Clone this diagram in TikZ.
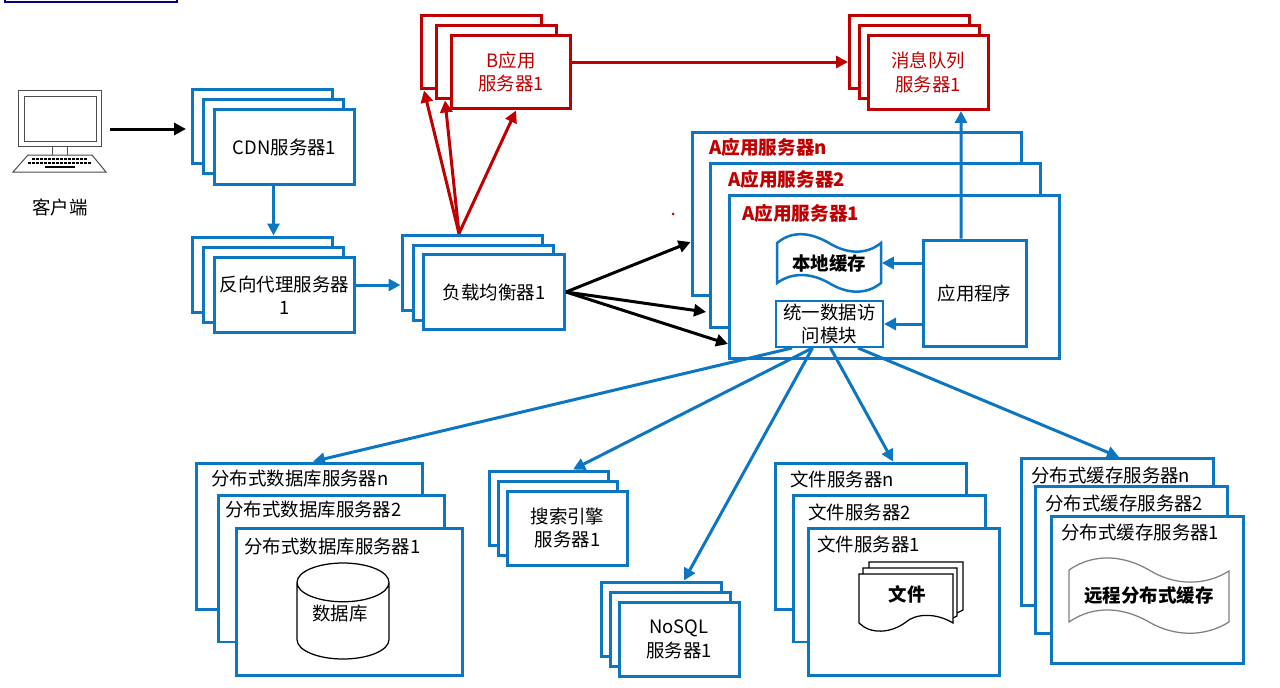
\documentclass[tikz,border=0pt]{standalone}
\usepackage{fontspec}
\setmainfont{Noto Sans CJK SC}
\usepackage{tikz}
\usetikzlibrary{shapes.geometric, arrows.meta}
\definecolor{lineblue}{HTML}{0C76C2}
\definecolor{linered}{HTML}{C00000}
\tikzstyle{smallbox} = [rectangle, minimum width=2.82cm, minimum height=1.5cm, inner sep=0pt, text centered, align=center, draw=lineblue, line width=0.06cm, fill=white, font=\fontsize{10.5}{13.4}\selectfont]
\tikzstyle{querybox} = [smallbox, minimum width=2.4cm, minimum height=1.48cm]
\tikzstyle{redbox} = [querybox, draw=linered, text=linered]
\tikzstyle{appbox} = [smallbox, minimum width=6.6cm, minimum height=3.28cm]
\tikzstyle{dbbox} = [smallbox, minimum width=4.54cm, minimum height=2.94cm]
\tikzstyle{filebox} = [smallbox, minimum width=3.84cm, minimum height=2.94cm]
\tikzstyle{title} = [anchor=west, inner sep=0pt, font=\fontsize{10.5}{13.4}\selectfont]
\tikzstyle{apptitle} = [anchor=west, inner sep=0pt, text=linered, font=\fontsize{10.6}{13}\selectfont\bfseries]
\tikzstyle{blackline} = [black, line width=0.025cm]
\tikzstyle{arrow} = [line width=0.06cm,-{Triangle[length=0.24cm,width=0.24cm]}]
\tikzstyle{bluearrow} = [arrow, draw=lineblue]
\tikzstyle{redarrow} = [arrow, draw=linered]
\tikzstyle{blackarrow} = [arrow, draw=black]
\begin{document}
\begin{tikzpicture}[x=0.02cm,y=-0.02cm]
	\useasboundingbox (0,0) rectangle (1280,687);
	\node (topbox) [draw=blue!50!black, line width=0.04cm, minimum width=3.44cm, minimum height=0.44cm] at (91,-9) {};

	% client
	\node (screen) [draw=black!70, line width=0.02cm, minimum width=1.68cm, minimum height=1.12cm] at (60,118) {};
	\node (panel) [draw=black!70, line width=0.02cm, minimum width=1.46cm, minimum height=0.9cm] at (60.5,118.5) {};
	\draw [black!70, line width=0.02cm] (52,146) -- (52,155) (67,146) -- (67,155);
	\draw [black!70, line width=0.02cm] (28,155) -- (92,155) -- (106,172) -- (13,172) -- cycle;
	\draw [black, line width=0.05cm, dash pattern=on 0.06cm off 0.02cm] (32,159) -- (87,159);
	\draw [black, line width=0.05cm, dash pattern=on 0.06cm off 0.02cm] (28,163) -- (91,163);
	\draw [black, line width=0.05cm] (45,167) -- (75,167);
	\node (client) [font=\fontsize{10.5}{13.4}\selectfont] at (60,207) {客户端};
	\coordinate (clientout) at (110,129);
	\coordinate (cdnin) at (186,129);

	% front servers
	\node (cdnn) [smallbox] at (262.5,126.5) {};
	\node (cdn2) [smallbox] at (273.5,136.5) {};
	\node (cdn1) [smallbox] at (284.5,147) {CDN服务器1};
	\node (revn) [smallbox] at (262.5,274.5) {};
	\node (rev2) [smallbox] at (273.5,285) {};
	\node (rev1) [smallbox] at (284.5,295) {反向代理服务器\\1};
	\node (lbn) [smallbox] at (472.5,272.5) {};
	\node (lb2) [smallbox] at (483.5,282.5) {};
	\node (lb1) [smallbox] at (494,292) {负载均衡器1};

	% red servers
	\node (bn) [redbox] at (481.5,52) {};
	\node (b2) [redbox] at (496.5,62) {};
	\node (b1) [redbox] at (511,72) {B应用\\服务器1};
	\node (mqn) [redbox] at (909.5,52) {};
	\node (mq2) [redbox] at (919,62) {};
	\node (mq1) [redbox] at (928,72.5) {消息队列\\服务器1};

	% A servers
	\node (an) [appbox] at (857,214) {};
	\node (atitlen) [apptitle] at (709,147) {A应用服务器n};
	\node (a2) [appbox] at (875.5,245.5) {};
	\node (atitle2) [apptitle] at (728,179) {A应用服务器2};
	\node (a1) [appbox] at (894.5,277) {};
	\node (atitle1) [apptitle] at (742,213) {A应用服务器1};
	\draw [draw=lineblue, line width=0.05cm, fill=white] (777,243) .. controls (795,228) and (815,235) .. (829,243) .. controls (845,253) and (865,256) .. (881,243) -- (881,283) .. controls (865,296) and (845,293) .. (829,283) .. controls (815,275) and (795,270) .. (777,283) -- cycle;
	\node (lcache) [minimum width=2.1cm, inner sep=0pt, font=\fontsize{10.5}{13.4}\selectfont\bfseries] at (829,263) {本地缓存};
	\node (app) [smallbox, minimum width=2.06cm, minimum height=2.14cm] at (974.5,293.5) {应用程序};
	\node (uni) [smallbox, line width=0.04cm, minimum width=2.14cm, minimum height=0.92cm] at (829.5,324) {统一数据访\\问模块};

	% database
	\node (dbn) [dbbox] at (309.5,536.5) {};
	\node (dbtitlen) [title] at (211,479) {分布式数据库服务器n};
	\node (db2) [dbbox] at (331.5,568.5) {};
	\node (dbtitle2) [title] at (225,510) {分布式数据库服务器2};
	\node (db1) [dbbox] at (349.5,601.5) {};
	\node (dbtitle1) [title] at (244,547) {分布式数据库服务器1};
	\node (cyl) [cylinder, shape border rotate=90, aspect=0.7, draw=black, line width=0.025cm, minimum width=1.84cm, minimum height=1.92cm, inner sep=0pt, font=\fontsize{10.5}{13.4}\selectfont] at (343,621) {\phantom{数据库}};
	\node (cyllabel) [font=\fontsize{10.5}{13.4}\selectfont] at (340,614) {数据库};

	% search, nosql
	\node (searchn) [querybox] at (549,508) {};
	\node (search2) [querybox] at (558,518) {};
	\node (search1) [querybox] at (567.5,528) {搜索引擎\\服务器1};
	\node (nosqln) [querybox] at (661,619) {};
	\node (nosql2) [querybox] at (670,629) {};
	\node (nosql1) [querybox] at (679,639.5) {NoSQL\\服务器1};

	% file
	\node (filen) [filebox] at (871,536.5) {};
	\node (filetitlen) [title] at (790,479) {文件服务器n};
	\node (file2) [filebox] at (889.5,568.5) {};
	\node (filetitle2) [title] at (808,512) {文件服务器2};
	\node (file1) [filebox] at (904,601.5) {};
	\node (filetitle1) [title] at (817,544) {文件服务器1};
	\draw [blackline] (869,568) -- (869,562) -- (963,562) -- (963,610) -- (957,613);
	\draw [blackline] (863,574) -- (863,568) -- (957,568) -- (957,616) -- (953,618);
	\draw [blackline] (859,574) -- (953,574) -- (953,623) .. controls (935,612) and (915,614) .. (906,622) .. controls (890,634) and (870,634) .. (859,623) -- cycle;
	\node (doc) [font=\fontsize{10.5}{13.4}\selectfont\bfseries] at (907,594) {文件};

	% cache
	\node (cachen) [filebox] at (1117.5,532) {};
	\node (cachetitlen) [title] at (1031,475) {分布式缓存服务器n};
	\node (cache2) [filebox] at (1131.5,560) {};
	\node (cachetitle2) [title] at (1045,503) {分布式缓存服务器2};
	\node (cache1) [filebox] at (1147.5,589.5) {};
	\node (cachetitle1) [title] at (1061,532) {分布式缓存服务器1};
	\draw [black!50, line width=0.025cm] (1069,570) .. controls (1095,552) and (1125,556) .. (1149,570) .. controls (1175,586) and (1205,586) .. (1229,571) -- (1229,622) .. controls (1205,637) and (1175,637) .. (1149,622) .. controls (1125,608) and (1095,604) .. (1069,622) -- cycle;
	\node (rcache) [font=\fontsize{10.5}{13.4}\selectfont\bfseries] at (1149,595) {远程分布式缓存};

	\fill [linered] (673,214) circle (0.03cm);

	\draw [blackarrow] (clientout) -- (cdnin);
	\draw [bluearrow] (cdn2.south |- cdn1.south) -- (rev2.north |- revn.north);
	\draw [bluearrow] (rev1.east |- rev2.east) -- (lbn.west |- rev2.east);
	\draw [redarrow] ([xshift=-0.27cm]lbn.north) -- ([xshift=-1.15cm]bn.south);
	\draw [redarrow] ([xshift=-0.27cm]lbn.north) -- ([xshift=-1.03cm]b2.south);
	\draw [redarrow] ([xshift=-0.27cm]lbn.north) -- ([xshift=0.1cm]b1.south);
	\draw [redarrow] (b1.east |- mq2.west) -- (mqn.west |- mq2.west);
	\draw [blackarrow] (lb1.east) -- ([yshift=-0.56cm]an.west);
	\draw [blackarrow] (lb1.east) -- ([xshift=-0.06cm,yshift=-1.33cm]a2.west);
	\draw [blackarrow] (lb1.east) -- ([yshift=-1.34cm]a1.west);
	\draw [bluearrow] ([xshift=-0.27cm]app.north) -- ([xshift=0.66cm]mq1.south);
	\draw [bluearrow] (app.west |- lcache.east) -- (lcache.east);
	\draw [bluearrow] (app.west |- uni.east) -- (uni.east);
	\draw [bluearrow] ([xshift=-0.75cm]uni.south) -- ([xshift=0.07cm]dbn.north);
	\draw [bluearrow] ([xshift=-0.34cm]uni.south) -- ([xshift=0.48cm]searchn.north);
	\draw [bluearrow] ([xshift=-0.34cm]uni.south) -- ([xshift=0.46cm]nosqln.north);
	\draw [bluearrow] ([xshift=0.02cm]uni.south) -- ([xshift=0.44cm]filen.north);
	\draw [bluearrow] ([xshift=0.57cm]uni.south) -- ([xshift=0.03cm]cachen.north);
\end{tikzpicture}
\end{document}
